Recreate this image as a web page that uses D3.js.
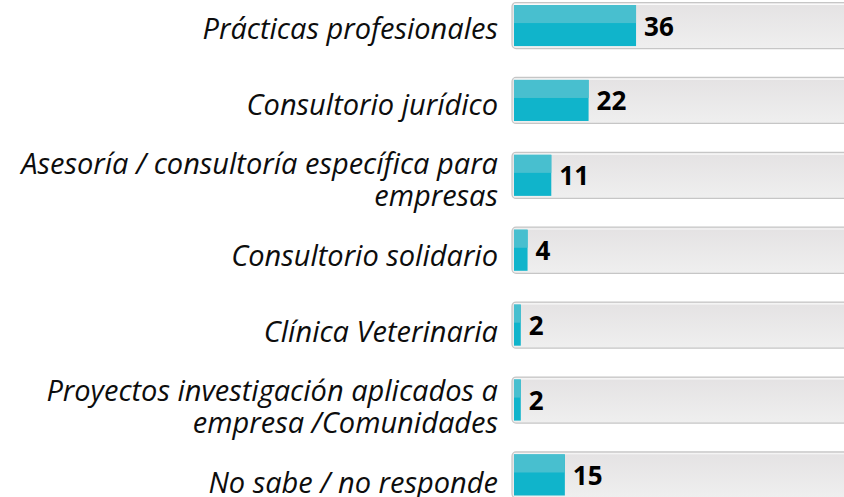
<!DOCTYPE html>
<html>
<head>
<meta charset="utf-8">
<script src="https://cdn.jsdelivr.net/npm/d3@7"></script>
<style>
  html, body { margin: 0; padding: 0; background: #fff; }
  svg { display: block; }
</style>
</head>
<body>
<div id="chart"></div>
<script>
// data
const categories = [
  'Prácticas profesionales',
  'Consultorio jurídico',
  'Asesoría / consultoría específica para\nempresas',
  'Consultorio solidario',
  'Clínica Veterinaria',
  'Proyectos investigación aplicados a\nempresa /Comunidades',
  'No sabe / no responde'
];
const values = [36, 22, 11, 4, 2, 2, 15];
const maxValue = 100;

const width = 844;
const height = 497;

const svg = d3.select('#chart')
  .append('svg')
  .attr('width', width)
  .attr('height', height);

const defs = svg.append('defs');
const trackGrad = defs.append('linearGradient')
  .attr('id', 'track')
  .attr('x1', 0).attr('y1', 0).attr('x2', 0).attr('y2', 1);
trackGrad.append('stop').attr('offset', '0%').attr('stop-color', '#e4e2e3');
trackGrad.append('stop').attr('offset', '100%').attr('stop-color', '#efefef');

// scales
const xScale = d3.scaleLinear()
  .domain([0, maxValue])
  .range([514, 853]);
const yScale = d3.scaleBand()
  .domain(categories)
  .range([2.5, 498])
  .paddingInner(0.385)
  .paddingOuter(0);
const labelScale = d3.scalePoint()
  .domain(categories)
  .range([29, 483]);

const rows = svg.selectAll('.row')
  .data(categories.map((c, i) => ({ cat: c, value: values[i] })))
  .enter()
  .append('g')
  .classed('row', true);

// background track
rows.append('rect')
  .attr('x', xScale(0) - 2)
  .attr('y', d => yScale(d.cat))
  .attr('width', xScale(maxValue) - xScale(0) + 4)
  .attr('height', yScale.bandwidth())
  .attr('rx', 4)
  .attr('fill', 'url(#track)')
  .attr('stroke', '#c6c6c6')
  .attr('stroke-width', 1.2);

rows.append('line')
  .attr('x1', xScale(0))
  .attr('x2', xScale(maxValue))
  .attr('y1', d => yScale(d.cat) + 1.8)
  .attr('y2', d => yScale(d.cat) + 1.8)
  .attr('stroke', '#fafafa')
  .attr('stroke-width', 1.2);

// bar: lighter top, darker bottom
const inset = 2.5;
rows.append('rect')
  .attr('x', xScale(0))
  .attr('y', d => yScale(d.cat) + inset)
  .attr('width', d => xScale(d.value) - xScale(0))
  .attr('height', yScale.bandwidth() - 2 * inset)
  .attr('fill', '#10b4cb');

rows.append('rect')
  .attr('x', xScale(0))
  .attr('y', d => yScale(d.cat) + inset)
  .attr('width', d => xScale(d.value) - xScale(0))
  .attr('height', (yScale.bandwidth() - 2 * inset) * 0.44)
  .attr('fill', '#48bfcf');

// value labels
rows.append('text')
  .attr('x', d => xScale(d.value) + 8)
  .attr('y', d => yScale(d.cat) + yScale.bandwidth() / 2)
  .attr('dy', 10)
  .style('font-family', '"Open Sans", sans-serif')
  .style('font-weight', 'bold')
  .style('font-size', '26px')
  .attr('fill', '#000')
  .text(d => d.value);

// category labels
const labels = rows.append('text')
  .attr('x', 498)
  .attr('y', d => labelScale(d.cat))
  .style('font-family', '"Open Sans", sans-serif')
  .style('font-style', 'italic')
  .style('font-size', '29px')
  .style('text-anchor', 'end')
  .attr('fill', '#0d0d0d');

const lineGap = 32;
labels.each(function(d) {
  const lines = d.cat.split('\n');
  const start = 10 - (lines.length - 1) * lineGap / 2;
  d3.select(this).selectAll('tspan')
    .data(lines)
    .enter()
    .append('tspan')
    .attr('x', 498)
    .attr('dy', (l, i) => i === 0 ? start : lineGap)
    .text(l => l);
});
</script>
</body>
</html>
